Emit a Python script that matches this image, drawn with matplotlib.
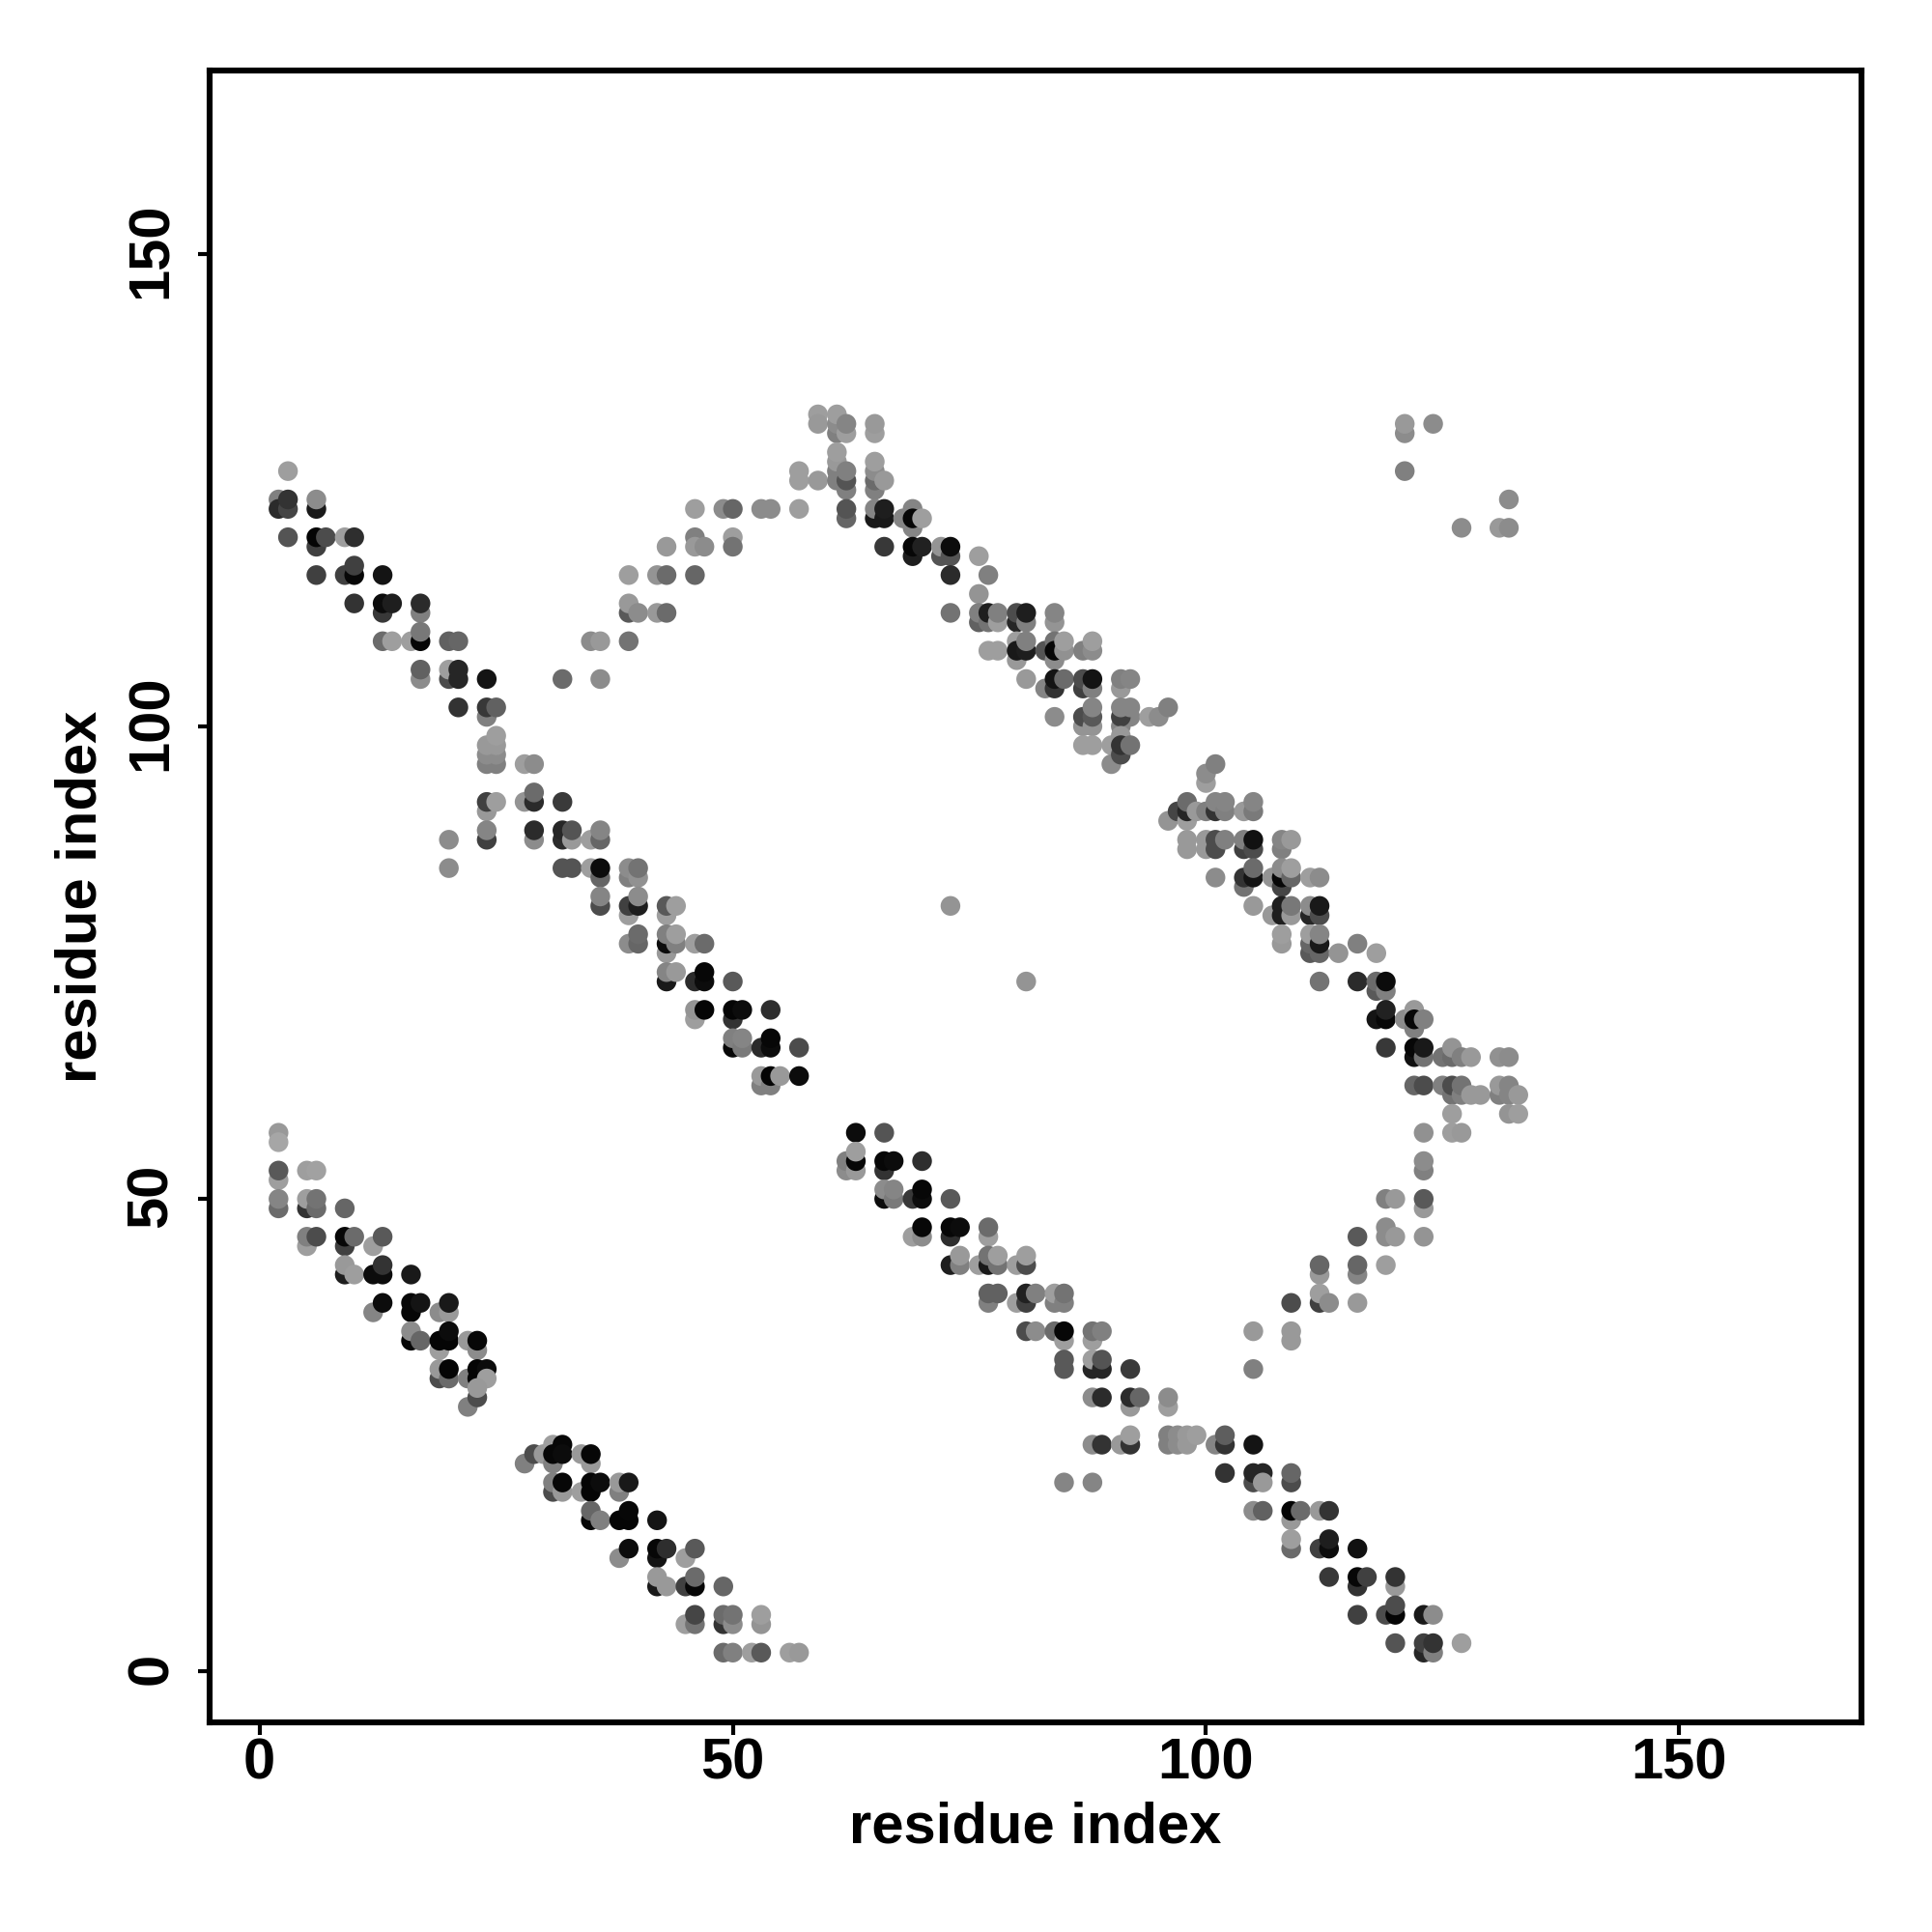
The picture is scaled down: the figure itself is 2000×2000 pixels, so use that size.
import matplotlib
matplotlib.use("Agg")
import matplotlib.pyplot as plt
from matplotlib.transforms import ScaledTranslation

plt.rcParams["font.family"] = ["Liberation Sans", "DejaVu Sans"]
plt.rcParams["font.weight"] = "bold"

# contacts as (residue i, residue j, shade); drawn in this order, later dots on top
band_low_left = [
    (2,57,.6),(2,56,.65),(2,52,.62),(2,53,.35),(5,53,.62),(6,53,.63),
    (2,49,.42),(2,50,.52),(5,49,.2),(5,50,.62),(6,49,.42),(6,50,.45),(9,49,.4),
    (5,45,.62),(5,46,.5),(6,46,.3),(9,45,.25),(9,46,.03),(10,46,.42),(12,45,.62),(13,46,.35),
    (9,42,.12),(9,43,.6),(10,42,.62),(12,42,.05),(13,42,.05),(13,43,.2),(16,42,.1),
    (12,38,.52),(13,39,.05),(16,38,.03),(16,39,.03),(17,39,.08),
    (19,38,.55),(20,38,.6),(20,39,.1),
    (16,35,.03),(16,36,.55),(17,35,.4),(19,34,.62),(19,35,.02),(20,35,.02),(20,36,.05),
    (22,35,.6),(23,34,.55),(23,35,.03),
    (19,31,.3),(19,32,.6),(20,31,.42),(20,32,.02),
    (22,31,.5),(23,31,.02),(23,32,.02),(24,32,.05),(24,31,.62),
    (22,28,.5),(23,29,.3),(23,30,.6),
]
band_low_mid = [
    (28,22,.5),(29,23,.3),(30,23,.6),(31,22,.5),(31,24,.62),(31,23,.03),(32,24,.03),(32,23,.05),
    (34,23,.6),(35,22,.6),(35,23,.03),
    (31,19,.3),(31,20,.5),(32,19,.6),(32,20,.03),
    (34,19,.62),(35,19,.02),(35,20,.02),(36,20,.05),(38,19,.5),(38,20,.6),(39,20,.1),
    (35,16,.03),(35,17,.4),(36,16,.5),(38,16,.02),(39,16,.02),(39,17,.03),(42,16,.08),
    (38,12,.55),(39,13,.05),(42,12,.08),(42,13,.03),(43,13,.18),(45,12,.62),(46,13,.35),
    (42,9,.1),(42,10,.6),(43,9,.6),(45,9,.25),(46,9,.03),(46,10,.42),(49,9,.4),
    (45,5,.62),(46,5,.45),(46,6,.27),(49,5,.2),(49,6,.42),(50,5,.55),(50,6,.45),
    (53,5,.58),(53,6,.62),
    (49,2,.42),(50,2,.5),(52,2,.62),(53,2,.35),(56,2,.62),(57,2,.6),
]
band_upper_left = [
    (3,127,.62),(2,124,.5),(2,123,.17),(3,123,.27),(3,124,.2),(6,123,.1),(6,124,.55),
    (3,120,.33),(6,119,.25),(6,120,.02),(7,120,.3),(9,120,.62),(10,120,.18),
    (6,116,.25),(9,116,.25),(10,116,.03),(10,117,.25),(13,116,.08),
    (10,113,.2),(13,112,.22),(13,113,.05),(14,113,.12),(17,112,.5),(17,113,.17),
    (13,109,.42),(14,109,.62),(16,109,.62),(17,109,.02),(17,110,.47),(20,109,.38),(21,109,.4),
    (17,105,.55),(17,106,.38),(20,105,.3),(20,106,.62),(21,105,.15),(21,106,.15),(24,105,.08),
    (21,102,.2),(24,101,.5),(24,102,.22),(25,102,.38),
    (24,96,.5),(25,96,.5),(24,97,.55),(25,97,.55),(24,98,.6),(25,98,.6),(25,99,.62),
    (28,96,.62),(29,96,.55),
]
band_mid_left = [
    (24,91,.6),(24,92,.25),(25,92,.62),(28,92,.58),(29,92,.17),(29,93,.42),(32,92,.23),
    (20,88,.55),(20,85,.55),(24,88,.25),(24,89,.52),(29,88,.55),(29,89,.17),
    (32,88,.17),(32,89,.15),(33,88,.6),(33,89,.33),(35,88,.62),(36,88,.4),(36,89,.52),
    (32,85,.33),(33,85,.33),(35,85,.62),(36,84,.4),(36,85,.05),
    (39,84,.5),(39,85,.55),(40,84,.57),(40,85,.45),
    (36,81,.3),(36,82,.52),(39,80,.62),(39,81,.25),(40,81,.12),(40,82,.55),
    (43,80,.62),(43,81,.35),(44,81,.62),
    (39,77,.55),(40,77,.4),(40,78,.42),(43,76,.6),(43,77,.05),(44,77,.5),(43,78,.5),(44,78,.62),
    (46,77,.62),(47,77,.42),
    (43,73,.1),(43,74,.52),(44,74,.6),(46,73,.17),(47,73,.05),(47,74,.03),(50,73,.35),
    (46,69,.62),(46,70,.58),(47,70,.02),(50,69,.2),(50,70,.02),(51,70,.05),(54,70,.18),
    (50,66,.03),(50,67,.5),(51,66,.48),(51,67,.52),(53,66,.17),(54,66,.05),(54,67,.03),(57,66,.3),
    (53,62,.5),(53,63,.6),(54,62,.5),(54,63,.02),(55,63,.6),(57,63,.05),
]
band_low_right = [
    (63,57,.05),(66,57,.33),(62,53,.55),(62,54,.5),(63,53,.6),(63,54,.03),(63,55,.62),
    (66,53,.2),(66,54,.03),(67,54,.05),(70,54,.18),
    (66,50,.05),(66,51,.55),(67,50,.48),(67,51,.52),(69,50,.22),(70,50,.05),(70,51,.03),(73,50,.35),
    (69,46,.62),(70,46,.55),(70,47,.03),(73,46,.18),(73,47,.03),(74,47,.05),(77,46,.62),(77,47,.42),
    (73,43,.12),(74,43,.5),(74,44,.6),(76,43,.62),(77,43,.1),(77,44,.45),(78,43,.45),(78,44,.62),
    (80,43,.62),(81,43,.3),(81,44,.62),
    (77,39,.5),(77,40,.38),(78,40,.38),(80,39,.62),(81,39,.25),(81,40,.13),(82,40,.5),
    (84,39,.5),(84,40,.62),(85,39,.5),(85,40,.45),
    (81,36,.3),(82,36,.55),(84,36,.42),(85,35,.62),(85,36,.03),(88,35,.62),(88,36,.45),(89,36,.5),
    (85,32,.35),(85,33,.35),(88,32,.15),(88,33,.62),(89,32,.15),(89,33,.33),(92,32,.23),
    (88,29,.55),(89,29,.17),(92,28,.6),(92,29,.17),(93,29,.4),(96,28,.62),(96,29,.55),
    (88,24,.55),(89,24,.2),(91,24,.6),(92,24,.2),(92,25,.62),
    (96,24,.5),(96,25,.5),(97,24,.55),(97,25,.55),(98,24,.6),(98,25,.6),(99,25,.62),
    (101,24,.52),(102,24,.2),(102,25,.37),(105,24,.08),
    (85,20,.52),(88,20,.52),(102,21,.2),
    (105,20,.3),(105,21,.15),(106,21,.15),(106,20,.6),(109,20,.3),(109,21,.4),
    (105,17,.55),(106,17,.38),(109,16,.6),(109,17,.02),(110,17,.42),(112,17,.6),(113,17,.2),
    (109,13,.42),(109,14,.62),(112,13,.25),(113,13,.05),(113,14,.12),(116,13,.07),
    (113,10,.22),(116,9,.2),(116,10,.03),(117,10,.25),(120,9,.6),(120,10,.2),
    (116,6,.25),(119,6,.3),(120,6,.02),(120,7,.3),(123,6,.1),(124,6,.55),
    (120,3,.33),(123,2,.15),(123,3,.25),(124,2,.5),(124,3,.2),(127,3,.62),
]
band_top_left = [
    (32,105,.42),(36,105,.55),(35,109,.55),(36,109,.6),(39,109,.45),
    (39,112,.35),(39,113,.6),(40,112,.55),(42,112,.6),(43,112,.42),
    (39,116,.62),(42,116,.58),(43,116,.42),(43,119,.6),(46,116,.4),
    (46,120,.5),(46,119,.6),(47,119,.55),(46,123,.62),
    (49,123,.55),(50,123,.4),(50,120,.62),(50,119,.45),(53,123,.55),(54,123,.55),
]
band_top = [
    (57,123,.62),(57,127,.62),(57,126,.62),(59,126,.6),(59,133,.62),(59,132,.6),
    (61,131,.5),(61,132,.55),(61,133,.62),(62,131,.62),(62,132,.52),(65,131,.62),(65,132,.6),
    (61,126,.5),(61,127,.5),(61,128,.6),(61,129,.62),(62,125,.5),(62,126,.33),(62,127,.5),
    (65,125,.5),(65,126,.42),(65,127,.55),(65,128,.62),(66,126,.6),
    (62,122,.4),(62,123,.33),(65,122,.1),(65,123,.52),(66,122,.1),(66,123,.12),
    (68,122,.52),(69,121,.52),(69,123,.52),(69,122,.03),(70,122,.62),
    (66,119,.22),(69,118,.12),(69,119,.03),(70,119,.13),
    (72,118,.33),(72,119,.58),(73,118,.33),(73,119,.05),(73,116,.17),
    (76,118,.62),(77,116,.5),(76,114,.58),(73,112,.45),
    (76,111,.38),(76,112,.5),(77,111,.45),(77,112,.12),(78,111,.62),(78,112,.5),
    (80,111,.15),(80,112,.3),(81,111,.5),(81,112,.12),(84,111,.58),(84,112,.52),
]
band_upper_right = [
    (77,108,.62),(78,108,.62),(80,107,.6),(80,109,.62),(80,108,.1),(81,108,.12),(81,109,.5),
    (83,108,.33),(84,107,.55),(84,109,.45),(84,108,.03),(85,108,.57),(85,109,.62),
    (87,108,.5),(88,108,.55),(88,109,.62),
    (81,105,.6),(83,104,.52),(84,104,.2),(84,105,.08),(85,105,.42),
    (87,104,.25),(87,105,.3),(88,104,.5),(88,105,.08),(91,104,.6),(91,105,.5),(92,105,.52),
    (84,101,.55),(87,100,.58),(87,101,.3),(88,100,.58),(88,101,.35),(88,102,.52),
    (91,100,.52),(92,101,.52),(91,101,.25),(91,102,.52),(92,102,.52),
    (94,101,.62),(95,101,.55),(96,102,.5),
    (87,98,.62),(88,98,.62),(90,98,.62),(91,99,.6),(90,96,.55),(91,97,.3),(91,98,.2),(92,98,.45),
    (96,90,.58),(97,91,.27),(98,90,.62),(98,91,.15),(98,92,.42),(99,91,.6),
    (100,94,.62),(100,95,.55),(101,96,.5),
    (100,91,.5),(101,91,.2),(101,92,.52),(102,91,.5),(102,92,.52),(104,91,.6),(105,91,.48),(105,92,.52),
    (98,87,.6),(98,88,.6),(100,87,.6),(100,88,.6),(101,87,.3),(101,88,.3),(102,88,.5),
    (104,87,.25),(104,88,.5),(105,87,.3),(105,88,.07),(108,87,.5),(108,88,.52),(109,88,.6),
    (101,84,.55),(104,83,.45),(104,84,.2),(105,84,.08),(105,85,.42),
    (107,84,.58),(108,83,.27),(108,84,.03),(108,85,.55),(109,84,.4),(109,85,.62),(111,84,.62),(112,84,.55),
    (105,81,.6),(107,80,.6),(108,80,.12),(108,81,.12),(109,80,.6),(109,81,.47),
    (111,80,.15),(111,81,.55),(112,80,.3),(112,81,.1),
    (108,77,.6),(108,78,.62),(111,76,.35),(111,77,.4),(111,78,.62),(112,76,.4),(112,77,.1),(112,78,.52),
    (114,76,.58),(116,77,.5),(118,76,.62),
    (112,73,.45),(116,73,.17),(118,72,.35),(118,73,.42),(119,72,.5),(119,73,.05),
    (118,69,.08),(119,69,.03),(119,70,.13),(121,69,.55),(122,68,.5),(122,70,.6),(122,69,.03),(123,69,.5),
    (119,66,.22),(122,65,.07),(122,66,.03),(123,65,.45),(123,66,.1),
    (125,65,.45),(126,65,.42),(126,66,.58),(127,65,.5),(128,65,.6),(131,65,.57),(132,65,.55),
    (122,62,.4),(123,62,.3),(125,62,.5),(126,61,.45),(126,62,.3),(127,61,.5),(127,62,.45),(128,61,.6),(129,61,.6),
    (131,61,.5),(131,62,.6),(132,61,.52),(132,62,.52),(133,61,.6),
    (126,59,.62),(132,59,.58),(133,59,.62),(123,57,.57),(126,57,.62),(127,57,.6),
]
band_right_arm = [
    (105,36,.6),(105,32,.5),(109,39,.3),(109,35,.6),(109,36,.6),
    (112,42,.6),(112,43,.4),(112,39,.25),(112,40,.62),(113,39,.55),
    (116,39,.6),(116,42,.52),(116,43,.4),(116,46,.35),
    (119,50,.5),(120,50,.6),(119,46,.55),(119,47,.55),(120,46,.6),(119,43,.62),
    (123,53,.5),(123,54,.55),(123,49,.6),(123,50,.35),(123,46,.58),
]
stray_contacts = [
    (121,131,.55),(121,132,.6),(124,132,.55),(121,127,.5),(127,121,.55),
    (131,121,.6),(132,121,.55),(132,124,.55),(73,81,.58),(81,73,.58),
]
bands = [band_low_left, band_low_mid, band_upper_left, band_mid_left, band_low_right,
         band_top_left, band_top, band_upper_right, band_right_arm, stray_contacts]
ticks = [0, 50, 100, 150]

fig = plt.figure(figsize=(10, 10), dpi=200)
ax = fig.add_axes([0.1084, 0.1084, 0.8553, 0.8552])

for band in bands:
    xs = [p[0] for p in band]
    ys = [p[1] for p in band]
    shade = [p[2] for p in band]
    ax.scatter(xs, ys, c=shade, cmap="gray", vmin=0, vmax=1, s=54, linewidths=0, zorder=3)

ax.set_xlim(-5.3, 169.3)
ax.set_ylim(-5.4, 169.4)
ax.set_xticks(ticks)
ax.set_yticks(ticks)
ax.tick_params(width=1.5, length=4.5, labelsize=21.5)
ax.tick_params(axis="x", pad=1)
ax.tick_params(axis="y", pad=7)
plt.setp(ax.get_yticklabels(), rotation=90, va="center")
# y labels sit a touch above their ticks
offset = ScaledTranslation(0, 1.2 / 72, fig.dpi_scale_trans)
for lab in ax.get_yticklabels():
    lab.set_transform(lab.get_transform() + offset)
for s in ax.spines.values():
    s.set_linewidth(2.2)

ax.set_xlabel("residue index", fontsize=21.5, fontweight="bold", labelpad=4)
ax.set_ylabel("residue index", fontsize=21.5, fontweight="bold", labelpad=6.5)

fig.savefig("out.png", dpi=200)
